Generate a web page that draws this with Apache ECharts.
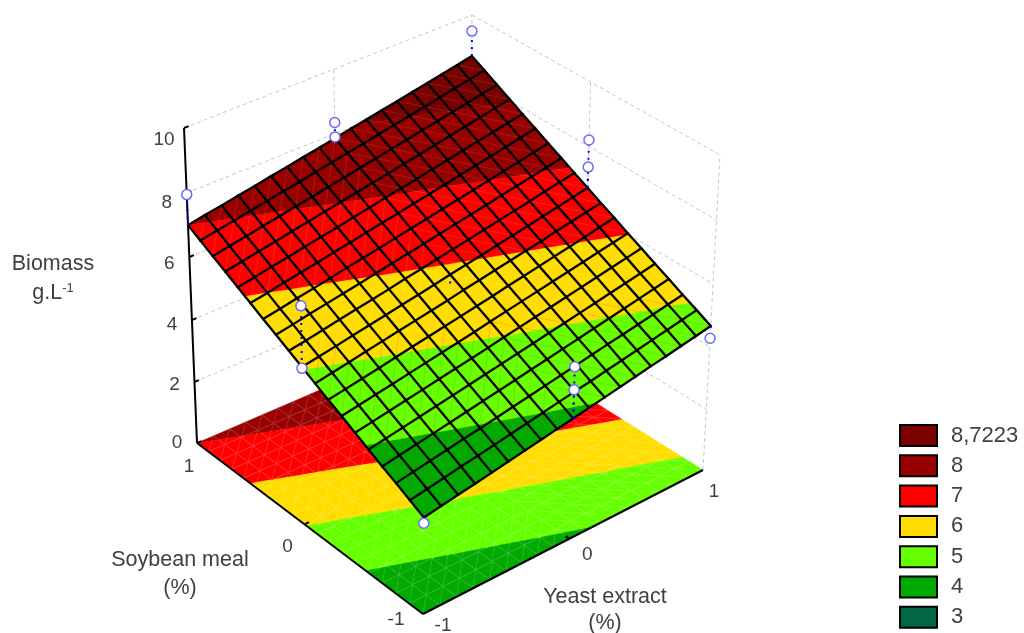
<!DOCTYPE html>
<html>
<head>
<meta charset="utf-8">
<title>Biomass response surface</title>
<script src="https://cdn.jsdelivr.net/npm/echarts@6/dist/echarts.min.js"></script>
<style>
  html, body { margin: 0; padding: 0; background: #fff; }
  #chart { width: 1024px; height: 633px; }
</style>
</head>
<body>
<div id="chart"></div>
<script>
// axis ticks
const zTicks = [0, 2, 4, 6, 8, 10];
const soyTicks = [1, 0, -1];
const yeastTicks = [-1, 0, 1];

// colour bands, upper limit of each one is the legend label
const bandLabels = ['8,7223', '8', '7', '6', '5', '4', '3'];
const bandLow = [8, 7, 6, 5, 4, 3, -99];
const bandHigh = [99, 8, 7, 6, 5, 4, 3];
const bandColors = ['#7b0000', '#990000', '#ff0000', '#ffdd00', '#66ff00', '#00aa00', '#006644'];

// fitted surface, rows go soybean -1 -> 1, columns go yeast -1 -> 1
const surfaceZ = [
  [3.08,3.17,3.26,3.34,3.43,3.52,3.61,3.70,3.79,3.87,3.96,4.05,4.14,4.23,4.32,4.40,4.49,4.58,4.67],
  [3.30,3.39,3.48,3.57,3.65,3.74,3.83,3.92,4.01,4.10,4.19,4.27,4.36,4.45,4.54,4.63,4.72,4.81,4.90],
  [3.52,3.61,3.70,3.79,3.88,3.96,4.05,4.14,4.23,4.32,4.41,4.50,4.59,4.68,4.76,4.85,4.94,5.03,5.12],
  [3.73,3.82,3.91,4.00,4.09,4.18,4.27,4.36,4.45,4.54,4.63,4.72,4.81,4.90,4.99,5.08,5.17,5.26,5.35],
  [3.95,4.04,4.13,4.22,4.31,4.40,4.49,4.58,4.67,4.76,4.85,4.94,5.03,5.12,5.21,5.30,5.39,5.48,5.57],
  [4.17,4.26,4.35,4.44,4.53,4.62,4.71,4.80,4.89,4.99,5.08,5.17,5.26,5.35,5.44,5.53,5.62,5.71,5.80],
  [4.39,4.48,4.57,4.66,4.75,4.84,4.93,5.02,5.11,5.21,5.30,5.39,5.48,5.57,5.66,5.75,5.84,5.93,6.02],
  [4.60,4.69,4.78,4.87,4.97,5.06,5.15,5.24,5.33,5.42,5.51,5.61,5.70,5.79,5.88,5.97,6.06,6.16,6.25],
  [4.82,4.91,5.00,5.10,5.19,5.28,5.37,5.46,5.55,5.65,5.74,5.83,5.92,6.01,6.10,6.20,6.29,6.38,6.47],
  [5.04,5.13,5.22,5.32,5.41,5.50,5.59,5.68,5.77,5.87,5.96,6.05,6.14,6.23,6.32,6.42,6.51,6.60,6.70],
  [5.26,5.35,5.44,5.54,5.63,5.72,5.81,5.91,6.00,6.09,6.18,6.27,6.37,6.46,6.55,6.64,6.74,6.83,6.92],
  [5.48,5.57,5.67,5.76,5.85,5.94,6.04,6.13,6.22,6.31,6.41,6.50,6.59,6.68,6.78,6.87,6.96,7.05,7.15],
  [5.69,5.78,5.88,5.97,6.06,6.16,6.25,6.34,6.44,6.53,6.62,6.72,6.81,6.90,7.00,7.09,7.18,7.28,7.37],
  [5.91,6.00,6.10,6.19,6.28,6.38,6.47,6.57,6.66,6.75,6.85,6.94,7.03,7.13,7.22,7.31,7.41,7.50,7.60],
  [6.13,6.22,6.32,6.41,6.51,6.60,6.69,6.79,6.88,6.98,7.07,7.16,7.26,7.35,7.45,7.54,7.63,7.73,7.82],
  [6.35,6.44,6.54,6.63,6.73,6.82,6.92,7.01,7.11,7.20,7.29,7.39,7.48,7.58,7.67,7.77,7.86,7.96,8.05],
  [6.56,6.66,6.75,6.85,6.94,7.04,7.13,7.23,7.32,7.42,7.51,7.61,7.70,7.80,7.89,7.99,8.08,8.18,8.27],
  [6.78,6.88,6.97,7.07,7.16,7.26,7.35,7.45,7.54,7.64,7.73,7.83,7.92,8.02,8.11,8.21,8.31,8.40,8.50],
  [7.00,7.10,7.19,7.29,7.38,7.48,7.57,7.67,7.76,7.86,7.96,8.05,8.15,8.24,8.34,8.43,8.53,8.62,8.72]
];

// observed runs: yeast, soybean, biomass
const obsYeast = [-1, 1, 1, -1, 0, 0, 1, 1, -1, -1, 0, 0, 0];
const obsSoy = [1, 1, -1, -1, 1, 1, 0, 0, 0, 0, -1, -1, 0];
const obsBiomass = [7.95, 9.5, 4.28, 2.9, 8.35, 7.9, 8.2, 7.35, 6.95, 5.0, 5.5, 4.78, 5.45];
// last one sits under the surface, only its stem shows
const obsHidden = [0, 0, 0, 0, 0, 0, 0, 0, 0, 0, 0, 0, 1];

// view of the box: screen corners of floor and ceiling (order: -1-1, 1-1, 11, -11)
const floorQuad = [[423, 614], [703, 470], [471, 325], [197, 443]];
const ceilQuad = [[426, 292], [720, 155], [472, 15], [184, 128]];
const zPerspective = 1.04;

function quadMap(q) {
  const dx1 = q[1][0] - q[2][0], dx2 = q[3][0] - q[2][0], sx = q[0][0] - q[1][0] + q[2][0] - q[3][0];
  const dy1 = q[1][1] - q[2][1], dy2 = q[3][1] - q[2][1], sy = q[0][1] - q[1][1] + q[2][1] - q[3][1];
  const den = dx1 * dy2 - dx2 * dy1;
  const g = (sx * dy2 - dx2 * sy) / den, h = (dx1 * sy - sx * dy1) / den;
  const a = q[1][0] - q[0][0] + g * q[1][0], b = q[3][0] - q[0][0] + h * q[3][0];
  const d = q[1][1] - q[0][1] + g * q[1][1], e = q[3][1] - q[0][1] + h * q[3][1];
  return (u, v) => {
    const w = g * u + h * v + 1;
    return [(a * u + b * v + q[0][0]) / w, (d * u + e * v + q[0][1]) / w];
  };
}
const floorMap = quadMap(floorQuad);
const ceilMap = quadMap(ceilQuad);

// yeast, soybean in -1..1, biomass in 0..10 -> position on the hidden axes
function project(x, y, z) {
  const u = (x + 1) / 2, v = (y + 1) / 2, t = z / 10;
  const k = t / (t + (1 - t) * zPerspective);
  const f = floorMap(u, v), c = ceilMap(u, v);
  return [f[0] + (c[0] - f[0]) * k, f[1] + (c[1] - f[1]) * k];
}

// keep the part of a polygon ([x, y, value]) on one side of a level
function clipLevel(poly, level, keepAbove) {
  const out = [];
  for (let n = 0; n < poly.length; n++) {
    const p = poly[n], q = poly[(n + 1) % poly.length];
    const pIn = keepAbove ? p[2] >= level : p[2] <= level;
    const qIn = keepAbove ? q[2] >= level : q[2] <= level;
    if (pIn) out.push(p);
    if (pIn !== qIn) {
      const s = (level - p[2]) / (q[2] - p[2]);
      out.push([p[0] + (q[0] - p[0]) * s, p[1] + (q[1] - p[1]) * s, level]);
    }
  }
  return out;
}

const meshSize = surfaceZ.length - 1;
const meshCells = [];
for (let j = 0; j < meshSize; j++) {
  for (let i = 0; i < meshSize; i++) meshCells.push([i, j]);
}
const gx = (i) => i / meshSize * 2 - 1;

// one mesh cell cut into the colour bands, on the floor or on the surface
function cellRenderer(onFloor) {
  return function (params, api) {
    const i = api.value(0), j = api.value(1);
    const cell = [[gx(i), gx(j), surfaceZ[j][i]], [gx(i + 1), gx(j), surfaceZ[j][i + 1]],
      [gx(i + 1), gx(j + 1), surfaceZ[j + 1][i + 1]], [gx(i), gx(j + 1), surfaceZ[j + 1][i]]];
    const toPx = (p) => api.coord(project(p[0], p[1], onFloor ? 0 : p[2]));
    const children = [];
    bandColors.forEach((color, b) => {
      let part = clipLevel(cell, bandLow[b], true);
      if (part.length) part = clipLevel(part, bandHigh[b], false);
      if (part.length < 3) return;
      children.push({
        type: 'polygon',
        shape: { points: part.map(toPx) },
        style: { fill: color, stroke: color, lineWidth: 0.6 }
      });
    });
    // faint triangle edges of the mesh, the diagonal flips halfway across
    const diag = i >= meshSize / 2 ? [cell[1], cell[3]] : [cell[0], cell[2]];
    let faint = onFloor ? 'rgba(255,255,255,0.16)' : 'rgba(255,255,255,0.1)';
    if (!onFloor && surfaceZ[j][i] < 5) faint = 'rgba(190,90,0,0.22)';
    const lines = onFloor ? [diag, [cell[0], cell[1]], [cell[0], cell[3]]] : [diag];
    lines.forEach((l) => {
      const a = toPx(l[0]), b = toPx(l[1]);
      children.push({
        type: 'line',
        shape: { x1: a[0], y1: a[1], x2: b[0], y2: b[1] },
        style: { stroke: faint, lineWidth: 1 }
      });
    });
    return { type: 'group', children: children };
  };
}

// straight segments, each data row holds two 3D ends
function segmentSeries(rows, style, z) {
  return {
    type: 'custom', silent: true, clip: false, z: z,
    data: rows.map((r, n) => [n, n]),
    renderItem: (params, api) => {
      const r = rows[params.dataIndex];
      const a = api.coord(project(r[0], r[1], r[2])), b = api.coord(project(r[3], r[4], r[5]));
      return { type: 'line', shape: { x1: a[0], y1: a[1], x2: b[0], y2: b[1] }, style: style };
    }
  };
}

// dashed lines on the two back walls
const wallLines = [];
zTicks.forEach((z) => {
  if (z === 0) return;
  wallLines.push([-1, 1, z, 1, 1, z], [1, 1, z, 1, -1, z]);
});
wallLines.push([0, 1, 0, 0, 1, 10], [1, 1, 0, 1, 1, 10], [1, 0, 0, 1, 0, 10], [1, -1, 0, 1, -1, 10]);

// black frame of the box
const frameLines = [[-1, 1, 0, -1, 1, 10], [-1, 1, 0, -1, -1, 0], [-1, -1, 0, 1, -1, 0]];

// black wire mesh on the surface
const meshLines = [];
for (let a = 0; a <= meshSize; a++) {
  for (let b = 0; b < meshSize; b++) {
    meshLines.push([gx(b), gx(a), surfaceZ[a][b], gx(b + 1), gx(a), surfaceZ[a][b + 1]]);
    meshLines.push([gx(a), gx(b), surfaceZ[b][a], gx(a), gx(b + 1), surfaceZ[b + 1][a]]);
  }
}

// dotted stems from the surface up or down to each run
const stemLines = obsYeast.map((x, n) => {
  const i = Math.round((x + 1) / 2 * meshSize), j = Math.round((obsSoy[n] + 1) / 2 * meshSize);
  return [x, obsSoy[n], surfaceZ[j][i], x, obsSoy[n], obsBiomass[n]];
});

// tick labels as [text, x, y, z, offset px]
const labelColor = '#404040';
const labelFont = 'Liberation Sans, Arial, sans-serif';
const tickLabels = [];
zTicks.forEach((z) => tickLabels.push([String(z), -1, 1, z, -20, z * 1.2]));
const soyOffsets = [[-8, 24], [-17, 22], [-27, 6]];
soyTicks.forEach((v, n) => tickLabels.push([String(v), -1, v, 0, soyOffsets[n][0], soyOffsets[n][1]]));
const yeastOffsets = [[20, 12], [18, 16], [11, 22]];
yeastTicks.forEach((v, n) => tickLabels.push([String(v), v, -1, 0, yeastOffsets[n][0], yeastOffsets[n][1]]));

const series = [
  segmentSeries(wallLines, { stroke: '#c8c8c8', lineWidth: 1, lineDash: [4, 3] }, 1),
  { type: 'custom', silent: true, clip: false, z: 2, data: meshCells, renderItem: cellRenderer(true) },
  segmentSeries(frameLines, { stroke: '#000', lineWidth: 2 }, 3),
  { type: 'custom', silent: true, clip: false, z: 4, data: meshCells, renderItem: cellRenderer(false) },
  segmentSeries(meshLines, { stroke: '#000', lineWidth: 2.3, lineCap: 'round' }, 5),
  segmentSeries(stemLines, { stroke: '#0000ff', lineWidth: 2, lineDash: [2, 5] }, 6),
  {
    type: 'custom', silent: true, clip: false, z: 7,
    data: obsYeast.map((x, n) => [n, n]),
    renderItem: (params, api) => {
      const n = params.dataIndex;
      if (obsHidden[n]) return null;
      const p = api.coord(project(obsYeast[n], obsSoy[n], obsBiomass[n]));
      return {
        type: 'circle',
        shape: { cx: p[0], cy: p[1], r: 5 },
        style: { fill: '#fff', stroke: '#6a6aff', lineWidth: 1.5 }
      };
    }
  },
  {
    type: 'custom', silent: true, clip: false, z: 8,
    data: tickLabels.map((r, n) => [n, n]),
    renderItem: (params, api) => {
      const r = tickLabels[params.dataIndex];
      const p = api.coord(project(r[1], r[2], r[3]));
      return {
        type: 'text',
        style: {
          text: r[0], x: p[0] + r[4], y: p[1] + r[5], fill: labelColor,
          fontSize: 19, fontFamily: labelFont, align: 'center', verticalAlign: 'middle'
        }
      };
    }
  }
];

// tick marks on the axis and on the floor edges
const tickMarks = [];
zTicks.forEach((z) => tickMarks.push([-1, 1, z, -0.97, 1, z]));
tickMarks.push([-1, 0, 0, -0.97, 0, 0], [0, -1, 0, 0, -0.97, 0]);
series.push(segmentSeries(tickMarks, { stroke: '#000', lineWidth: 2 }, 3));

// empty series, only there so the legend gets its colour swatches
bandLabels.forEach((name, b) => {
  series.push({ type: 'bar', name: name, data: [], itemStyle: { color: bandColors[b] } });
});

// centred axis title line
function titleLine(text, x, y, extra) {
  return {
    type: 'text', x: x, y: y, z: 20,
    style: Object.assign({
      text: text, fill: labelColor, fontSize: 21.5, fontFamily: labelFont,
      align: 'center', verticalAlign: 'middle'
    }, extra || {})
  };
}

let myChart = echarts.init(document.getElementById('chart'));
let option = {
  animation: false,
  backgroundColor: '#fff',
  grid: { left: 0, right: 0, top: 0, bottom: 0, show: false },
  xAxis: { type: 'value', min: 0, max: 1024, show: false },
  yAxis: { type: 'value', min: 0, max: 633, inverse: true, show: false },
  legend: {
    orient: 'vertical',
    left: 899,
    top: 424,
    padding: 0,
    icon: 'rect',
    itemWidth: 37,
    itemHeight: 21,
    itemGap: 7.3,
    itemStyle: { borderColor: '#000', borderWidth: 2 },
    textStyle: {
      color: labelColor, fontSize: 22, fontFamily: labelFont,
      padding: [0, 0, 0, 9]
    },
    data: bandLabels
  },
  graphic: [
    titleLine('Biomass', 53, 264),
    titleLine('{n|g.L}{s|-1}', 53, 293, {
      rich: {
        n: { fontSize: 21.5, fontFamily: labelFont, fill: labelColor },
        s: { fontSize: 13, fontFamily: labelFont, fill: labelColor, verticalAlign: 'top' }
      }
    }),
    titleLine('Soybean meal', 180, 560),
    titleLine('(%)', 180, 588),
    titleLine('Yeast extract', 605, 597),
    titleLine('(%)', 605, 623)
  ],
  series: series
};
myChart.setOption(option);
</script>
</body>
</html>
